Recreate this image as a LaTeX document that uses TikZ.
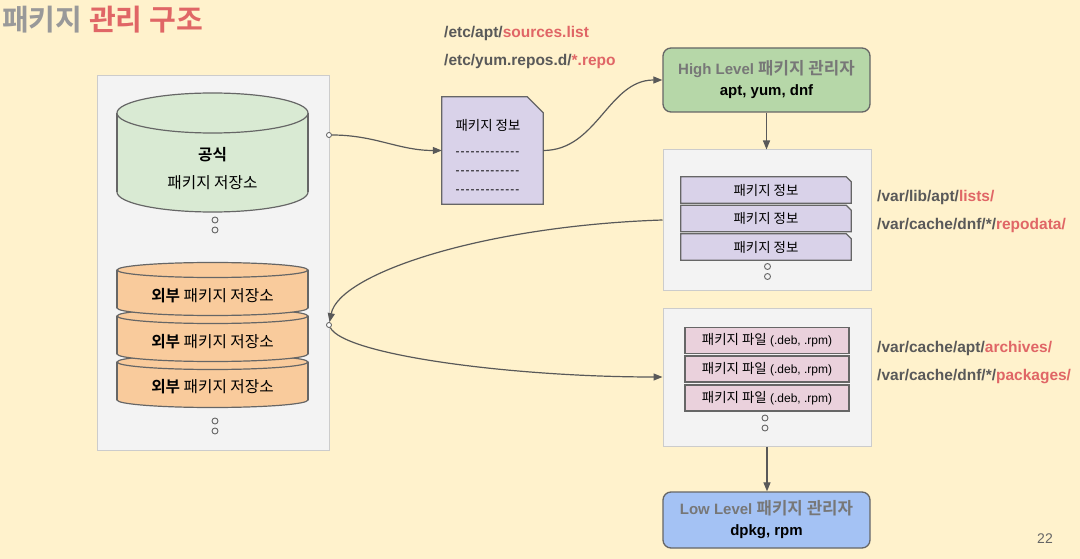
\documentclass[tikz,border=0pt]{standalone}
\usepackage{fontspec}
\setmainfont{Liberation Sans}
\newfontfamily\kr{Noto Sans CJK KR}[Scale=1.12, BoldFont={Noto Sans CJK KR Bold}]
\usetikzlibrary{arrows.meta,calc}

\definecolor{paper}{HTML}{FFF2CC}
\definecolor{panelfill}{HTML}{F3F3F3}
\definecolor{panelline}{HTML}{CCCCCC}
\definecolor{edge}{HTML}{666666}
\definecolor{linkgray}{HTML}{595959}
\definecolor{drumgreen}{HTML}{D9EAD3}
\definecolor{drumorange}{HTML}{F9CB9C}
\definecolor{infofill}{HTML}{D9D2E9}
\definecolor{filefill}{HTML}{EAD1DC}
\definecolor{highgreen}{HTML}{B6D7A8}
\definecolor{lowblue}{HTML}{A4C2F4}
\definecolor{accent}{HTML}{E06666}
\definecolor{titlegray}{HTML}{999999}
\definecolor{mgrgray}{HTML}{777777}

% cylinder: x centre, top y, bottom y, x radius, y radius, fill
\newcommand\drum[6]{%
  \filldraw[fill=#6, draw=edge, line width=1.2pt] (#1,#3) ellipse[x radius=#4pt, y radius=#5pt];
  \fill[#6] (#1-#4,#2) rectangle (#1+#4,#3);
  \draw[edge, line width=1.2pt] (#1-#4,#2) -- (#1-#4,#3) (#1+#4,#2) -- (#1+#4,#3);
  \filldraw[fill=#6, draw=edge, line width=1.2pt] (#1,#2) ellipse[x radius=#4pt, y radius=#5pt];
}
% two small rings meaning "and more"
\newcommand\moreitems[2]{%
  \draw[edge, line width=0.9pt] (#1,#2-5) circle[radius=3pt] (#1,#2+5) circle[radius=3pt];
}
\newcommand\dashrow{\foreach \k in {1,...,13}{-\kern1pt}}

\tikzset{
  panel/.style={draw=panelline, fill=panelfill, line width=1pt, inner sep=0pt},
  manager/.style={draw=edge, rounded corners=8pt, line width=1.3pt, align=center,
    inner sep=0pt, minimum width=207pt, font=\bfseries\fontsize{15}{21}\selectfont},
  link/.style={draw=linkgray, line width=1.2pt, -{Triangle[length=9pt,width=7pt]}},
  port/.style={circle, draw=linkgray, fill=white, line width=0.8pt, inner sep=0pt, minimum size=5pt},
  pathtext/.style={anchor=west, inner sep=0pt, text=linkgray, font=\bfseries\fontsize{15.5}{18}\selectfont},
  frame/.style={inner sep=0pt, minimum width=#1pt},
  record/.style={font=\kr\fontsize{12}{14}\selectfont, inner sep=0pt},
}

\begin{document}
\begin{tikzpicture}[x=1pt, y=-1pt]
\useasboundingbox (0,0) rectangle (1080,559);
\fill[paper] (0,0) rectangle (1080,559);

% title
\node[anchor=west, inner sep=0pt, font=\kr\bfseries\fontsize{26}{30}\selectfont] (title) at (2,20)
  {\textcolor{titlegray}{패키지} \textcolor{accent}{관리 구조}};

% repositories
\node[panel, minimum width=232pt, minimum height=374pt] (repos) at (213,263) {};
\drum{212.5}{113}{192}{95.5}{20}{drumgreen}
\node[align=center, inner sep=0pt, font=\kr\fontsize{14}{28}\selectfont] (official) at (212.5,169)
  {\textbf{공식}\\패키지 저장소};
\moreitems{215}{225}
\foreach \t in {362,316,270} {\drum{212.5}{\t}{\t+38}{95.5}{7.5}{drumorange}}
\foreach \y [count=\i] in {296,342,387}
  \node[inner sep=0pt, font=\kr\fontsize{14}{16}\selectfont] (ext\i) at (212.5,\y) {\textbf{외부} 패키지 저장소};
\moreitems{215}{426}

% source lists
\node[pathtext] (srcapt) at (444,33) {/etc/apt/\textcolor{accent}{sources.list}};
\node[pathtext] (srcyum) at (444,61) {/etc/yum.repos.d/\textcolor{accent}{*.repo}};

% package information document
\node[frame=101, minimum height=107pt] (doc) at (492.5,150.5) {};
\filldraw[fill=infofill, draw=edge, line width=1.2pt] (doc.north west) -- ([xshift=-16pt]doc.north east)
  -- ([yshift=-16pt]doc.north east) -- (doc.south east) -- (doc.south west) -- cycle;
\node[align=center, inner sep=0pt, font=\fontsize{12}{19}\selectfont] (doctext) at (488,156)
  {{\kr 패키지 정보}\\[6pt]\dashrow\\\dashrow\\\dashrow};

% managers
\node[manager, fill=highgreen, minimum height=64pt] (high) at (766.5,80)
  {\textcolor{mgrgray}{High Level {\kr 패키지 관리자}}\\apt, yum, dnf};
\node[manager, fill=lowblue, minimum height=56pt] (low) at (766.5,520)
  {\textcolor{mgrgray}{Low Level {\kr 패키지 관리자}}\\dpkg, rpm};

% cached package lists
\node[panel, minimum width=208pt, minimum height=140pt] (pkgs) at (767,220) {};
\foreach \y [count=\i] in {190,218.5,247} {
  \node[frame=170, minimum height=26pt] (info\i) at (766,\y) {};
  \filldraw[fill=infofill, draw=edge, line width=1.2pt] (info\i.north west) -- ([xshift=-5pt]info\i.north east)
    -- ([yshift=-5pt]info\i.north east) -- (info\i.south east) -- (info\i.south west) -- cycle;
  \node[record] at (info\i) {패키지 정보};
}
\moreitems{767.5}{271.5}
\node[pathtext] (listapt) at (877,197) {/var/lib/apt/\textcolor{accent}{lists/}};
\node[pathtext] (listdnf) at (877,225) {/var/cache/dnf/*/\textcolor{accent}{repodata/}};

% downloaded package files
\node[panel, minimum width=208pt, minimum height=138pt] (files) at (767,377) {};
\foreach \y [count=\i] in {340.5,369,398}
  \node[draw=edge, fill=filefill, line width=1.2pt, frame=164, minimum height=26pt,
    inner sep=0pt, font=\fontsize{12}{14}\selectfont] (file\i) at (767,\y) {{\kr 패키지 파일} (.deb, .rpm)};
\moreitems{765}{423}
\node[pathtext] (archapt) at (877,348) {/var/cache/apt/\textcolor{accent}{archives/}};
\node[pathtext] (archdnf) at (877,377) {/var/cache/dnf/*/\textcolor{accent}{packages/}};

% page number
\node[inner sep=0pt, text=edge, font=\fontsize{14}{16}\selectfont] (page) at (1045,539) {22};

% connectors
\node[port] (p1) at (329,135) {};
\node[port] (p2) at (329,325) {};
\begin{scope}[link]
\draw (p1) to[out=0, in=180] (doc.west);
\draw (doc.east) to[out=0, in=180] (high.west);
\draw (high.south) -- (high.south |- pkgs.north);
\draw (pkgs.west) .. controls +(-181,6) and +(10,-51) .. (p2);
\draw (p2) .. controls +(15,30) and +(-150,0) .. (files.west);
\draw (files.south) -- (files.south |- low.north);
\end{scope}
\end{tikzpicture}
\end{document}
